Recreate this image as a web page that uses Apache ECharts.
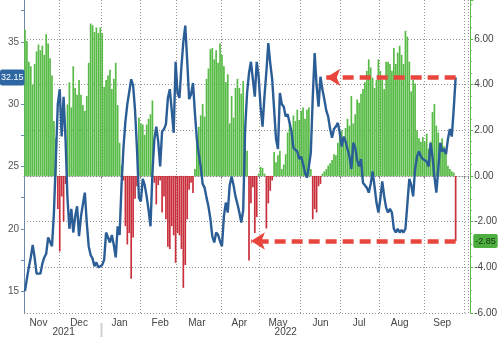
<!DOCTYPE html>
<html>
<head>
<meta charset="utf-8">
<script src="https://cdn.jsdelivr.net/npm/echarts@6/dist/echarts.min.js"></script>
<style>
  html, body { margin: 0; padding: 0; background: #fff; }
  #chart { width: 500px; height: 337px; }
</style>
</head>
<body>
<div id="chart"></div>
<script>
// Trading calendar: weekdays from the first to the last session, minus US market holidays
const firstSession = '2021-11-04';
const lastSession = '2022-10-04';
const marketHolidays = ['2021-11-25', '2021-12-24', '2022-01-17', '2022-02-21', '2022-04-15',
  '2022-05-30', '2022-06-20', '2022-07-04', '2022-09-05'];
const monthNames = ['Jan', 'Feb', 'Mar', 'Apr', 'May', 'Jun', 'Jul', 'Aug', 'Sep', 'Oct', 'Nov', 'Dec'];

// Daily spread (right axis), one value per session from 2021-11-04
const spread = [
  6.4, 5.9, 5.0, 4.8, 4.0, 4.9, 5.45, 5.75, 5.5, 5.7, 5.3, 6.2, 5.8, 5.15, 4.4,
  2.4, 1.65, -1.45, -3.3, -0.9, -2.0, -0.35,
  3.13, 4.1, 3.0, 4.8, 3.85, 3.55, 4.2, 3.55, 3.1, 2.85, 3.5, 4.95, 6.67, 6.6, 6.3, 6.5, 6.25, 6.5, 6.25,
  3.9, 4.2, 4.4, 4.65, 3.8, 4.25, 4.95, 3.1, 1.45, 0.45,
  -0.2, -2.2, -3.0, -2.5, -4.5, -2.7, -1.0, -0.45,
  2.55, 2.3, 2.25, 1.8, 2.25, 2.5, 2.7, 3.3,
  -0.3, -1.25, -0.4, -0.2, -1.6, -0.9, -1.9, -3.1,
  -3.2, -2.2, -2.6, -3.8, -2.5, -2.6, -3.2, -4.9, -3.9, -1.9, -0.6, -0.3, -0.75,
  0.3, 1.55, 2.15, 2.65, 3.15, 2.6, 4.25, 4.7, 5.55, 5.6, 5.1, 5.5, 4.95, 5.8, 5.3, 4.8, 4.1, 4.45,
  2.3, 3.5, 2.55, 3.85, 4.25, 3.85, 3.6, 4.15, 1.65, 1.1,
  -3.7, -1.2, -0.5, -2.5, -1.8, 0.1, 0.4, 0.35, 0.1, -2.3, -1.2, -0.65, -0.2,
  1.05, 0.6, 0.9, 1.1, 0.3, 0.5, 0.95, 1.9, 2.3, 2.0, 2.65, 2.4, 2.9, 2.45, 2.85, 3.0, 2.5, 2.9, 3.0, 0.3,
  -1.9, -1.45, -1.6, -0.45, -0.35, 0.1, 0.2, 0.3,
  0.45, 0.55, 0.7, 0.95, 0.9, 1.45, 1.8, 2.0, 1.65, 2.1, 2.5, 2.2, 3.5, 2.3, 2.7, 3.35, 3.2, 3.6, 3.8,
  4.1, 4.6, 5.1, 4.75, 4.3, 3.85, 4.2, 5.1, 4.6, 4.2, 3.8, 5.0, 5.0, 4.9, 4.6, 5.6, 4.9, 5.4, 5.7, 5.3,
  4.9, 6.35, 6.1, 5.0, 3.7, 4.2, 4.05, 2.0, 1.65, 1.5, 1.7, 1.5, 1.85, 1.2, 1.5, 2.8, 3.15, 2.2, 1.9,
  1.3, 1.65, 1.3, 1.0, 0.45, 0.3, 0.2, 0.15, -2.85
];

// Daily level (left axis), same sessions
const level = [
  15.0, 16.0, 16.9, 17.7, 18.7, 17.7, 16.4, 16.5, 16.4, 17.2, 17.7, 18.0, 19.3, 19.4, 18.6,
  21.3, 25.6, 30.0, 31.2, 27.4, 30.6, 27.2, 22.5, 20.0, 21.6, 19.7, 21.0, 21.8, 19.4, 21.0, 22.0, 22.9,
  20.5, 18.6, 17.9, 17.6, 17.0, 17.3, 16.9, 16.8, 17.1,
  17.5, 19.7, 19.6, 18.9, 19.5, 18.7, 17.7, 20.2, 19.5, 23.5, 26.5, 28.6, 30.0, 31.0, 32.0, 31.5, 29.5,
  26.4, 22.5, 22.2, 24.0, 23.5, 22.6, 21.5, 20.2, 24.5, 27.2, 28.2, 27.0, 25.0, 27.8, 28.0, 28.4, 30.5,
  31.2, 29.5, 27.7, 33.4, 30.9, 30.5, 33.0, 35.0, 36.3, 33.5, 30.4, 30.8, 31.7, 29.3,
  27.2, 26.0, 25.0, 23.6, 23.3, 22.5, 21.8, 20.8, 19.4, 18.9, 19.7, 19.5, 19.0, 18.6, 21.0, 22.1, 21.3,
  23.5, 24.2, 23.5, 22.6, 22.0, 21.3, 20.5, 21.5,
  28.0, 30.9, 32.5, 33.4, 32.0, 30.6, 33.4, 32.2, 29.8, 28.2, 30.6, 32.6, 34.9, 33.3, 32.0, 29.6, 27.2,
  26.4, 30.9, 30.0, 29.8, 29.0, 29.2, 28.5, 27.8, 26.5, 26.5, 26.2, 25.6, 25.8, 25.2, 24.5, 24.1, 25.0, 26.1,
  30.5, 34.1, 31.5, 29.8, 32.2, 31.2, 30.4, 29.5, 29.0, 28.0, 27.3, 28.0, 28.2, 28.5, 27.7, 26.6, 27.4,
  27.0, 26.4, 25.8, 24.8, 26.9, 26.5, 25.5, 25.0, 25.6, 23.7, 23.5, 23.3, 22.9, 23.6, 24.6, 23.4, 22.1,
  21.3, 22.4, 23.8, 22.6, 21.7, 21.3, 21.6, 21.3, 20.0, 19.7, 20.0, 19.7, 19.9, 19.7, 20.0, 22.0, 24.0,
  23.5, 22.6, 24.8, 25.8, 26.2, 25.8, 25.6, 25.6, 25.4, 25.0, 26.9, 25.8, 24.2, 22.9, 24.8, 26.9, 26.2,
  26.4, 26.0, 27.2, 28.0, 27.4, 29.6, 32.15
];

// Tick labels
const leftTickLabels = [15, 20, 25, 30, 35];
const leftTickMarks = [15, 17.5, 20, 22.5, 25, 27.5, 30, 32.5, 35, 37.5];

// Sessions the two callouts point back to
const levelCalloutTarget = 156;
const spreadCalloutTarget = 117;

function sessions(from, to, skip) {
  const out = [];
  const d = new Date(from + 'T00:00:00Z');
  const end = new Date(to + 'T00:00:00Z');
  while (d <= end) {
    const wd = d.getUTCDay();
    const s = d.toISOString().slice(0, 10);
    if (wd !== 0 && wd !== 6 && skip.indexOf(s) < 0) out.push(s);
    d.setUTCDate(d.getUTCDate() + 1);
  }
  return out;
}

const dates = sessions(firstSession, lastSession, marketHolidays);
const monthOf = s => s.slice(0, 7);
const dayOf = s => +s.slice(8, 10);
const isMonthStart = i => i > 0 && monthOf(dates[i]) !== monthOf(dates[i - 1]);
const isMidMonth = i => i < spread.length && dayOf(dates[i]) <= 15 &&
  (i + 1 >= dates.length || dayOf(dates[i + 1]) > 15 || monthOf(dates[i + 1]) !== monthOf(dates[i]));

// Centre session of each calendar year, and the first session of each new year
const yearCentre = {};
const yearStarts = [];
(function () {
  const span = {};
  dates.forEach((s, i) => {
    const y = s.slice(0, 4);
    if (!span[y]) span[y] = [i, i];
    span[y][1] = i;
  });
  Object.keys(span).forEach((y, k) => {
    yearCentre[Math.round((span[y][0] + span[y][1]) / 2)] = y;
    if (k > 0) yearStarts.push(span[y][0]);
  });
})();

const FONT = 'Liberation Sans, Arial, sans-serif';
const GREEN = '#58bb47';
const RED = '#c9303c';
const BLUE = '#2b5e96';
const ARROW = '#e8463c';
const GRID = { color: '#959595', type: [1, 2], width: 1 };

const chart = echarts.init(document.getElementById('chart'), null, { renderer: 'canvas' });

chart.setOption({
  animation: false,
  backgroundColor: '#fff',
  textStyle: { fontFamily: FONT },
  grid: { left: 24, right: 30, top: 0, bottom: 23, containLabel: false },
  xAxis: [
    {
      type: 'category',
      data: dates,
      boundaryGap: true,
      axisLine: { show: true, lineStyle: { color: '#888', type: [1, 2] } },
      axisTick: { show: true, length: 3, interval: isMonthStart, lineStyle: { color: '#888' } },
      axisLabel: {
        interval: isMidMonth,
        formatter: v => monthNames[+v.slice(5, 7) - 1],
        color: '#444', fontSize: 10, margin: 5, fontFamily: FONT
      },
      splitLine: { show: true, interval: isMonthStart, lineStyle: GRID }
    },
    {
      type: 'category',
      data: dates,
      boundaryGap: true,
      position: 'bottom',
      offset: 9,
      axisLine: { show: false },
      axisTick: { show: false },
      axisLabel: {
        interval: i => yearCentre[i] !== undefined,
        formatter: v => v.slice(0, 4),
        color: '#444', fontSize: 10, margin: 5, fontFamily: FONT
      },
      splitLine: { show: false }
    }
  ],
  yAxis: [
    {
      type: 'value',
      position: 'left',
      min: 13.24,
      max: 38.36,
      axisLine: { show: true, lineStyle: { color: '#6f8aa6' } },
      axisTick: { show: true, length: 3, customValues: leftTickMarks, lineStyle: { color: '#6f8aa6' } },
      axisLabel: { customValues: leftTickLabels, color: '#555', fontSize: 10, margin: 5, fontFamily: FONT },
      splitLine: { show: false },
      axisPointer: {
        show: true,
        type: 'line',
        value: level[level.length - 1],
        status: 'show',
        triggerTooltip: false,
        lineStyle: { opacity: 0 },
        label: {
          show: true,
          formatter: p => Number(p.value).toFixed(2),
          backgroundColor: '#2f67a3',
          color: '#fff',
          fontSize: 9,
          fontFamily: FONT,
          padding: [4, 1, 3, 1],
          borderRadius: 2,
          margin: 1
        }
      }
    },
    {
      type: 'value',
      position: 'right',
      offset: 2,
      min: -6,
      max: 7.7,
      interval: 2,
      axisLine: { show: true, lineStyle: { color: '#5cb84a' } },
      axisTick: { show: true, length: 3, lineStyle: { color: '#5cb84a' } },
      minorTick: { show: true, splitNumber: 4, length: 2, lineStyle: { color: '#7cc86a' } },
      axisLabel: {
        showMaxLabel: false,
        formatter: v => v.toFixed(2),
        color: '#444', fontSize: 10, margin: 4, fontFamily: FONT
      },
      splitLine: { show: true, showMaxLine: false, lineStyle: GRID },
      axisPointer: {
        show: true,
        type: 'line',
        value: spread[spread.length - 1],
        status: 'show',
        triggerTooltip: false,
        lineStyle: { opacity: 0 },
        label: {
          show: true,
          formatter: p => Number(p.value).toFixed(2),
          backgroundColor: '#4caf3f',
          color: '#14300f',
          fontSize: 9,
          fontFamily: FONT,
          padding: [3, 2, 2, 2],
          borderRadius: 2,
          margin: 3
        }
      }
    }
  ],
  series: [
    {
      name: 'spread',
      type: 'bar',
      xAxisIndex: 0,
      yAxisIndex: 1,
      data: spread,
      barCategoryGap: '12%',
      itemStyle: { color: p => (p.value >= 0 ? GREEN : RED) },
      z: 2,
      markLine: {
        silent: true,
        symbol: ['none', 'arrow'],
        symbolSize: [13, 14],
        label: { show: false },
        lineStyle: { color: ARROW, width: 4.5, type: [11, 6], opacity: 1 },
        data: [[
          { coord: [spread.length - 1, spread[spread.length - 1]] },
          { coord: [spreadCalloutTarget, spread[spread.length - 1]] }
        ]],
        z: 6
      }
    },
    {
      name: 'level',
      type: 'line',
      xAxisIndex: 0,
      yAxisIndex: 0,
      data: level,
      showSymbol: false,
      symbol: 'none',
      lineStyle: { color: BLUE, width: 2.4 },
      z: 4,
      markLine: {
        silent: true,
        symbol: ['none', 'arrow'],
        symbolSize: [13, 14],
        label: { show: false },
        lineStyle: { color: ARROW, width: 4.5, type: [11, 6], opacity: 1 },
        data: [[
          { coord: [level.length - 1, level[level.length - 1]] },
          { coord: [levelCalloutTarget, level[level.length - 1]] }
        ]],
        z: 6
      }
    }
  ]
});

// Year separator below the month labels, at the boundary before each year's first session
function drawYearSeparators() {
  const bottom = chart.getHeight();
  const elements = yearStarts.map((idx, k) => {
    const a = chart.convertToPixel({ xAxisIndex: 0 }, idx);
    const b = chart.convertToPixel({ xAxisIndex: 0 }, idx - 1);
    const x = Math.round((a + b) / 2) + 0.5;
    return {
      type: 'line',
      id: 'yearSep' + k,
      silent: true,
      shape: { x1: x, y1: bottom - 14, x2: x, y2: bottom },
      style: { stroke: '#cfcfcf', lineWidth: 2 }
    };
  });
  chart.setOption({ graphic: elements });
}
drawYearSeparators();
</script>
</body>
</html>
